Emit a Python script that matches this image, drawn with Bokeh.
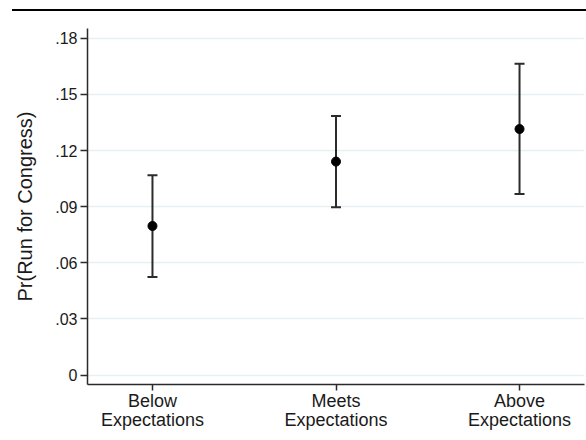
from bokeh.plotting import figure
from bokeh.models import ColumnDataSource, FixedTicker, Whisker, TeeHead, Div, Range1d
from bokeh.layouts import column
from bokeh.embed import file_html
from bokeh.resources import INLINE

categories = ["Below\nExpectations", "Meets\nExpectations", "Above\nExpectations"]
positions = [1, 2, 3]
estimates = [0.0797, 0.1141, 0.1315]
lower_ci = [0.0525, 0.0897, 0.0968]
upper_ci = [0.1068, 0.1384, 0.1664]
y_ticks = [0.0, 0.03, 0.06, 0.09, 0.12, 0.15, 0.18]
y_tick_labels = ["0", ".03", ".06", ".09", ".12", ".15", ".18"]

src = ColumnDataSource(dict(x=positions, y=estimates, lo=lower_ci, hi=upper_ci))

FONT = "Liberation Sans"
DARK = "#2b2b2b"

p = figure(width=586, height=429,
           x_range=Range1d(0.646, 3.354), y_range=Range1d(-0.005, 0.1852),
           output_backend="svg", toolbar_location=None,
           min_border_top=17, min_border_left=87, min_border_right=2, min_border_bottom=56)
p.outline_line_color = None
p.background_fill_color = "white"
p.border_fill_color = "white"

p.xgrid.grid_line_color = None
p.ygrid.grid_line_color = "#e6eff1"
p.ygrid.grid_line_width = 1.5

p.yaxis.ticker = FixedTicker(ticks=y_ticks)
p.yaxis.major_label_overrides = {t: l for t, l in zip(y_ticks, y_tick_labels)}
p.xaxis.ticker = FixedTicker(ticks=positions)
p.xaxis.major_label_overrides = {t: l for t, l in zip(positions, categories)}

for ax in (p.xaxis, p.yaxis):
    ax.axis_line_color = DARK
    ax.axis_line_width = 1.5
    ax.major_tick_line_color = DARK
    ax.major_tick_line_width = 1.5
    ax.minor_tick_line_color = None
    ax.major_tick_in = 0
    ax.major_label_text_font = FONT
    ax.major_label_text_color = "#1a1a1a"

p.yaxis.major_tick_out = 7
p.yaxis.major_label_standoff = 3
p.yaxis.major_label_text_font_size = "16px"
p.yaxis.axis_label = "Pr(Run for Congress)"
p.yaxis.axis_label_text_font = FONT
p.yaxis.axis_label_text_font_size = "20px"
p.yaxis.axis_label_text_font_style = "normal"
p.yaxis.axis_label_text_color = "#1a1a1a"
p.yaxis.axis_label_standoff = 16

p.xaxis.major_tick_out = 6
p.xaxis.major_label_standoff = 0
p.xaxis.major_label_text_font_size = "18px"
p.xaxis.major_label_text_line_height = 0.97

w = Whisker(source=src, base="x", lower="lo", upper="hi",
            line_color=DARK, line_width=2,
            lower_head=TeeHead(size=10, line_color=DARK, line_width=2),
            upper_head=TeeHead(size=10, line_color=DARK, line_width=2))
p.add_layout(w)
p.scatter("x", "y", source=src, size=9, color="black")

topline = Div(width=574, height=2, styles={"background-color": "black"}, margin=(9, 0, 0, 12))

layout = column(topline, p, spacing=0)
open("out.html", "w").write(file_html(layout, INLINE))
